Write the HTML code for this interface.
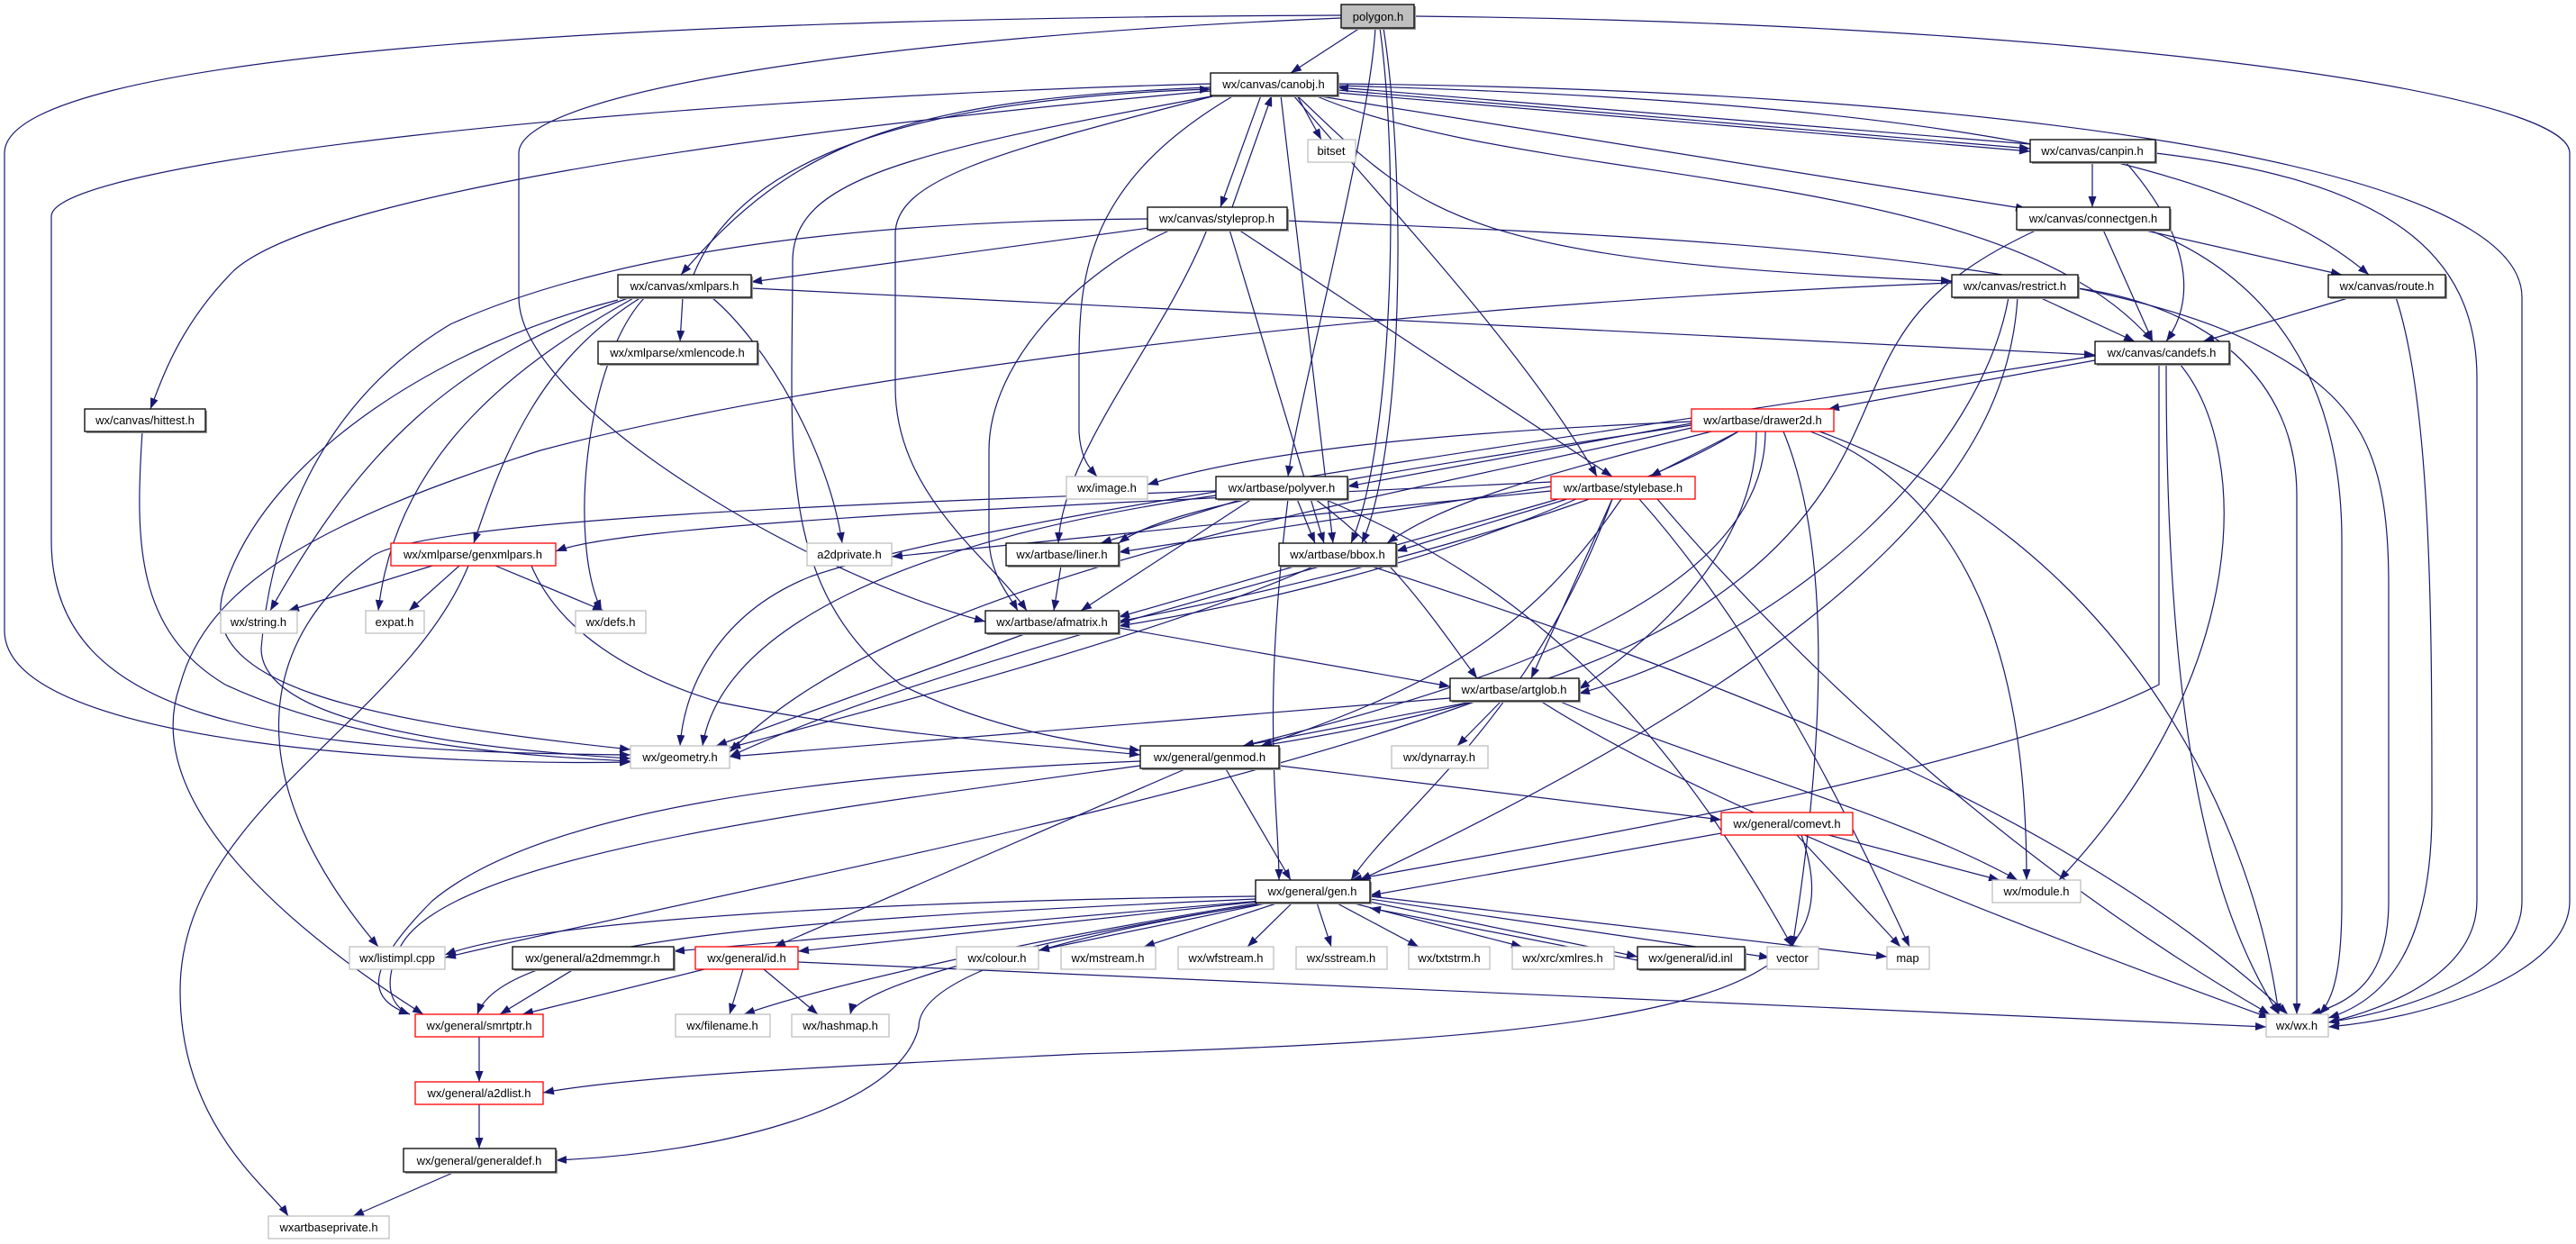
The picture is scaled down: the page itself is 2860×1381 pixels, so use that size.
<!DOCTYPE html>
<html><head><meta charset="utf-8"><style>
html,body{margin:0;padding:0;background:#fff;}
svg{display:block;}
text{font-family:"Liberation Sans",sans-serif;font-size:13px;fill:#000;}
</style></head><body>
<svg width="2860" height="1381" viewBox="0 0 2860 1381" xmlns="http://www.w3.org/2000/svg">
<defs>
<marker id="a" markerUnits="userSpaceOnUse" markerWidth="12" markerHeight="9" refX="12" refY="4.5" orient="auto">
<path d="M0,0 L12,4.5 L0,9 z" fill="#191970"/>
</marker>
</defs>
<g fill="none" stroke="#191970" stroke-width="1.2" marker-end="url(#a)">
<path d="M1510 31 L1433 81"/>
<path d="M1527 31 C1520 150,1440 450,1430 529"/>
<path d="M1532 31 C1555 200,1545 500,1500 603"/>
<path d="M1536 31 C1562 200,1558 500,1512 603"/>
<path d="M1489 20 C1000 40,576 100,576 170 L576 330 C576 450,900 640,1094 690"/>
<path d="M1489 17 C700 20,5 60,5 170 L5 700 C5 830,500 850,700 846"/>
<path d="M1570 18 C2300 25,2853 100,2853 170 L2853 1000 C2853 1080,2700 1130,2585 1140"/>
<path d="M1440 106 L1467 155"/>
<path d="M1485 100 L2254 165"/>
<path d="M2254 160 L1485 97"/>
<path d="M1485 103 L2254 168"/>
<path d="M1460 106 L2250 232"/>
<path d="M1440 106 C1580 240,1620 290,2167 312"/>
<path d="M1485 95 C2000 110,2450 150,2630 305"/>
<path d="M1460 106 C1700 210,2220 180,2390 379"/>
<path d="M1485 93 C2200 100,2800 180,2800 330 L2800 1000 C2800 1080,2680 1120,2585 1135"/>
<path d="M1400 106 L1355 230"/>
<path d="M1368 230 L1412 106"/>
<path d="M1344 97 C1000 110,880 160,756 305"/>
<path d="M770 305 C820 180,1000 110,1344 99"/>
<path d="M1344 101 C800 150,350 220,260 300 C200 360,180 420,167 454"/>
<path d="M1344 93 C700 110,57 180,57 240 L57 600 C57 800,300 835,700 838"/>
<path d="M1350 106 C1000 170,880 200,880 290 C880 500,860 650,1000 760 C1100 810,1200 825,1266 833"/>
<path d="M1350 106 C1100 170,994 200,994 260 L994 430 C994 550,1100 620,1140 678"/>
<path d="M1370 106 C1210 200,1198 300,1198 400 L1198 480 C1200 510,1210 520,1218 529"/>
<path d="M1422 106 L1480 603"/>
<path d="M1436 106 C1560 250,1700 400,1773 529"/>
<path d="M1276 253 L834 313"/>
<path d="M1274 243 C1000 245,700 270,500 360 C350 450,300 600,290 720 C290 800,500 830,700 842"/>
<path d="M1340 255 C1290 380,1180 500,1175 603"/>
<path d="M1300 255 C1200 300,1098 400,1098 500 L1098 600 C1100 640,1120 660,1130 678"/>
<path d="M1365 255 L1470 603"/>
<path d="M1375 255 L1790 529"/>
<path d="M1429 245 C1800 260,2300 280,2500 380 C2620 440,2652 500,2652 650 L2652 1000 C2652 1080,2620 1110,2565 1126"/>
<path d="M758 330 L755 379"/>
<path d="M834 320 L2326 394"/>
<path d="M700 330 C500 400,400 500,300 678"/>
<path d="M705 330 C580 400,440 500,420 678"/>
<path d="M716 330 C650 400,630 600,668 678"/>
<path d="M790 330 C850 380,920 500,935 603"/>
<path d="M712 330 C600 400,560 500,526 603"/>
<path d="M686 333 C500 380,300 500,250 650 C210 760,400 800,700 832"/>
<path d="M2264 330 L2370 379"/>
<path d="M2307 320 C2450 340,2550 420,2550 550 L2550 1126"/>
<path d="M2167 314 C1500 340,900 420,600 500 C350 580,230 650,200 760 C150 900,350 1050,470 1126"/>
<path d="M2230 330 C2200 500,2000 700,1753 770"/>
<path d="M2240 330 C2230 500,2100 700,1510 977"/>
<path d="M2610 330 L2446 379"/>
<path d="M2660 330 C2700 450,2700 700,2700 900 C2700 1050,2650 1110,2585 1130"/>
<path d="M2323 180 L2323 230"/>
<path d="M2360 180 C2430 260,2440 330,2405 379"/>
<path d="M2393 170 C2650 200,2750 280,2750 420 L2750 1000 C2750 1080,2650 1120,2585 1135"/>
<path d="M2378 255 L2600 305"/>
<path d="M2335 255 L2390 379"/>
<path d="M2385 255 C2500 300,2600 400,2600 600 L2600 1000 C2600 1080,2590 1110,2575 1126"/>
<path d="M2262 255 C2100 330,2100 400,2050 500 C1950 700,1700 780,1400 828"/>
<path d="M2326 400 L2030 454"/>
<path d="M2326 395 C1800 480,1100 570,900 640 C800 680,760 760,755 828"/>
<path d="M2420 404 C2500 500,2500 750,2286 977"/>
<path d="M2405 404 C2405 800,2450 1000,2530 1126"/>
<path d="M2397 404 L2397 760 C2200 860,1700 940,1500 977"/>
<path d="M1878 468 C1600 480,1400 500,1274 538"/>
<path d="M1878 470 L1496 540"/>
<path d="M1930 479 L1832 529"/>
<path d="M1878 472 C1500 530,1300 560,1242 603"/>
<path d="M1900 479 C1700 530,1600 560,1540 603"/>
<path d="M1930 479 C1800 560,1500 640,1242 690"/>
<path d="M1950 479 C1950 600,1850 700,1753 765"/>
<path d="M1878 475 C1500 560,1000 640,810 835"/>
<path d="M1960 479 C1960 650,1700 750,1380 828"/>
<path d="M1980 479 C2030 600,2030 800,1990 1051"/>
<path d="M2010 479 C2220 560,2250 800,2250 977"/>
<path d="M2020 479 C2350 600,2500 900,2530 1126"/>
<path d="M1380 554 L1222 603"/>
<path d="M1440 554 L1460 603"/>
<path d="M1390 554 L1200 678"/>
<path d="M1460 554 C1550 620,1600 700,1640 753"/>
<path d="M1430 554 C1400 800,1420 900,1420 977"/>
<path d="M1350 545 C900 560,450 580,410 620 C300 700,250 850,420 1051"/>
<path d="M1350 550 C1000 600,800 700,780 828"/>
<path d="M1470 554 C1700 650,1850 800,1990 1051"/>
<path d="M1722 545 L990 618"/>
<path d="M1722 540 L1242 613"/>
<path d="M1740 554 L1550 612"/>
<path d="M1750 554 C1600 620,1400 670,1242 695"/>
<path d="M1790 554 L1700 753"/>
<path d="M1730 554 C1400 650,1000 750,810 840"/>
<path d="M1790 554 C1700 800,1550 900,1500 977"/>
<path d="M1820 554 C1950 700,2050 900,2120 1051"/>
<path d="M1840 554 C2050 800,2300 1000,2520 1126"/>
<path d="M1722 535 C1200 560,700 580,617 612"/>
<path d="M1800 554 C1700 700,1600 760,1400 828"/>
<path d="M480 628 L320 678"/>
<path d="M510 628 L454 678"/>
<path d="M550 628 L670 678"/>
<path d="M590 628 C620 700,700 750,800 780 C1000 820,1200 830,1266 838"/>
<path d="M520 628 C450 800,200 900,200 1100 C200 1250,300 1320,320 1350"/>
<path d="M1178 628 L1170 678"/>
<path d="M1440 628 L1242 685"/>
<path d="M1460 628 C1300 700,1000 780,810 830"/>
<path d="M1520 628 C1900 750,2300 900,2540 1126"/>
<path d="M1140 703 L795 828"/>
<path d="M1242 697 L1610 762"/>
<path d="M158 479 C150 600,150 700,250 760 C400 830,600 840,700 845"/>
<path d="M1610 775 L810 840"/>
<path d="M1640 778 L1380 828"/>
<path d="M1667 778 L1618 828"/>
<path d="M1730 778 C1900 850,2100 900,2240 977"/>
<path d="M1710 778 C1900 900,2300 1050,2520 1130"/>
<path d="M1640 778 C1300 900,800 990,494 1063"/>
<path d="M1266 845 C900 860,600 900,480 1000 C400 1080,410 1110,455 1126"/>
<path d="M1266 850 C900 900,500 950,445 1050 C420 1100,440 1120,455 1126"/>
<path d="M1320 852 L860 1051"/>
<path d="M1360 852 L1433 977"/>
<path d="M1420 850 L1911 910"/>
<path d="M1911 925 L1521 994"/>
<path d="M2030 927 L2220 977"/>
<path d="M1995 927 L2110 1051"/>
<path d="M2000 927 C2060 1100,1900 1150,1200 1170 C900 1185,700 1195,603 1213"/>
<path d="M1394 995 C1000 1000,600 1020,494 1060"/>
<path d="M1400 1000 L748 1056"/>
<path d="M1405 1000 L886 1056"/>
<path d="M1410 1002 L1153 1055"/>
<path d="M1420 1002 L1270 1051"/>
<path d="M1435 1002 L1385 1051"/>
<path d="M1462 1002 L1478 1051"/>
<path d="M1483 1002 L1575 1051"/>
<path d="M1500 1002 L1690 1051"/>
<path d="M1515 1000 L1818 1062"/>
<path d="M1818 1066 L1521 1008"/>
<path d="M1521 998 L1965 1063"/>
<path d="M1521 995 L2095 1062"/>
<path d="M1394 998 C900 1020,560 1040,530 1126"/>
<path d="M1400 1002 C1100 1050,900 1100,826 1126"/>
<path d="M1410 1002 C1100 1050,950 1100,944 1126"/>
<path d="M1410 1002 C1100 1050,1020 1100,1020 1140 C1000 1230,800 1280,617 1288"/>
<path d="M637 1076 L555 1126"/>
<path d="M782 1076 L580 1126"/>
<path d="M825 1076 L810 1126"/>
<path d="M848 1076 L908 1126"/>
<path d="M886 1068 L2516 1140"/>
<path d="M532 1151 L532 1201"/>
<path d="M532 1226 L532 1275"/>
<path d="M505 1301 L392 1350"/>
</g>
<g fill="#9a9a9a" stroke="none">
<rect x="1346" y="83" width="141" height="25"/>
<rect x="1276" y="232" width="155" height="25"/>
<rect x="688" y="307" width="148" height="25"/>
<rect x="666" y="381" width="177" height="25"/>
<rect x="96" y="456" width="134" height="25"/>
<rect x="2256" y="157" width="139" height="25"/>
<rect x="2241" y="232" width="170" height="25"/>
<rect x="2169" y="307" width="140" height="25"/>
<rect x="2587" y="307" width="130" height="25"/>
<rect x="2328" y="381" width="149" height="25"/>
<rect x="1352" y="531" width="146" height="25"/>
<rect x="1119" y="605" width="125" height="25"/>
<rect x="1422" y="605" width="130" height="25"/>
<rect x="1096" y="680" width="148" height="25"/>
<rect x="1612" y="755" width="143" height="25"/>
<rect x="1268" y="830" width="154" height="25"/>
<rect x="1396" y="979" width="127" height="25"/>
<rect x="571" y="1053" width="179" height="25"/>
<rect x="1820" y="1053" width="119" height="25"/>
<rect x="450" y="1277" width="169" height="26"/>
<rect x="1491" y="7" width="81" height="26"/>
</g>
<g fill="#fff" stroke="#000" stroke-width="1.3">
<rect x="1344" y="81" width="141" height="25"/>
<rect x="1274" y="230" width="155" height="25"/>
<rect x="686" y="305" width="148" height="25"/>
<rect x="664" y="379" width="177" height="25"/>
<rect x="94" y="454" width="134" height="25"/>
<rect x="2254" y="155" width="139" height="25"/>
<rect x="2239" y="230" width="170" height="25"/>
<rect x="2167" y="305" width="140" height="25"/>
<rect x="2585" y="305" width="130" height="25"/>
<rect x="2326" y="379" width="149" height="25"/>
<rect x="1350" y="529" width="146" height="25"/>
<rect x="1117" y="603" width="125" height="25"/>
<rect x="1420" y="603" width="130" height="25"/>
<rect x="1094" y="678" width="148" height="25"/>
<rect x="1610" y="753" width="143" height="25"/>
<rect x="1266" y="828" width="154" height="25"/>
<rect x="1394" y="977" width="127" height="25"/>
<rect x="569" y="1051" width="179" height="25"/>
<rect x="1818" y="1051" width="119" height="25"/>
<rect x="448" y="1275" width="169" height="26"/>
<rect x="1489" y="5" width="81" height="26" fill="#bfbfbf"/>
</g>
<g fill="#fff" stroke="#ff0000" stroke-width="1.3">
<rect x="1878" y="454" width="158" height="25"/>
<rect x="1722" y="529" width="160" height="25"/>
<rect x="434" y="603" width="183" height="25"/>
<rect x="1911" y="902" width="146" height="25"/>
<rect x="772" y="1051" width="114" height="25"/>
<rect x="461" y="1126" width="142" height="25"/>
<rect x="461" y="1201" width="142" height="25"/>
</g>
<g fill="#fff" stroke="#bfbfbf" stroke-width="1.3">
<rect x="1452" y="155" width="53" height="25"/>
<rect x="1184" y="529" width="90" height="25"/>
<rect x="896" y="603" width="94" height="25"/>
<rect x="245" y="678" width="85" height="25"/>
<rect x="406" y="678" width="65" height="25"/>
<rect x="639" y="678" width="78" height="25"/>
<rect x="700" y="828" width="110" height="25"/>
<rect x="1545" y="828" width="107" height="25"/>
<rect x="2212" y="977" width="98" height="25"/>
<rect x="388" y="1051" width="106" height="25"/>
<rect x="1062" y="1051" width="91" height="25"/>
<rect x="1178" y="1051" width="105" height="25"/>
<rect x="1308" y="1051" width="106" height="25"/>
<rect x="1439" y="1051" width="101" height="25"/>
<rect x="1564" y="1051" width="90" height="25"/>
<rect x="1679" y="1051" width="113" height="25"/>
<rect x="1962" y="1051" width="57" height="25"/>
<rect x="2095" y="1051" width="47" height="25"/>
<rect x="750" y="1126" width="105" height="25"/>
<rect x="879" y="1126" width="108" height="25"/>
<rect x="2516" y="1126" width="69" height="25"/>
<rect x="298" y="1350" width="134" height="25"/>
</g>
<g text-anchor="middle">
<text x="1530" y="23">polygon.h</text>
<text x="1414" y="98">wx/canvas/canobj.h</text>
<text x="1478" y="172">bitset</text>
<text x="2323" y="172">wx/canvas/canpin.h</text>
<text x="1351" y="247">wx/canvas/styleprop.h</text>
<text x="2324" y="247">wx/canvas/connectgen.h</text>
<text x="760" y="322">wx/canvas/xmlpars.h</text>
<text x="2237" y="322">wx/canvas/restrict.h</text>
<text x="2650" y="322">wx/canvas/route.h</text>
<text x="752" y="396">wx/xmlparse/xmlencode.h</text>
<text x="2400" y="396">wx/canvas/candefs.h</text>
<text x="161" y="471">wx/canvas/hittest.h</text>
<text x="1957" y="471">wx/artbase/drawer2d.h</text>
<text x="1229" y="546">wx/image.h</text>
<text x="1423" y="546">wx/artbase/polyver.h</text>
<text x="1802" y="546">wx/artbase/stylebase.h</text>
<text x="525" y="620">wx/xmlparse/genxmlpars.h</text>
<text x="943" y="620">a2dprivate.h</text>
<text x="1179" y="620">wx/artbase/liner.h</text>
<text x="1485" y="620">wx/artbase/bbox.h</text>
<text x="287" y="695">wx/string.h</text>
<text x="438" y="695">expat.h</text>
<text x="678" y="695">wx/defs.h</text>
<text x="1168" y="695">wx/artbase/afmatrix.h</text>
<text x="1681" y="770">wx/artbase/artglob.h</text>
<text x="755" y="845">wx/geometry.h</text>
<text x="1343" y="845">wx/general/genmod.h</text>
<text x="1598" y="845">wx/dynarray.h</text>
<text x="1984" y="919">wx/general/comevt.h</text>
<text x="1457" y="994">wx/general/gen.h</text>
<text x="2261" y="994">wx/module.h</text>
<text x="441" y="1068">wx/listimpl.cpp</text>
<text x="658" y="1068">wx/general/a2dmemmgr.h</text>
<text x="829" y="1068">wx/general/id.h</text>
<text x="1107" y="1068">wx/colour.h</text>
<text x="1230" y="1068">wx/mstream.h</text>
<text x="1361" y="1068">wx/wfstream.h</text>
<text x="1489" y="1068">wx/sstream.h</text>
<text x="1609" y="1068">wx/txtstrm.h</text>
<text x="1735" y="1068">wx/xrc/xmlres.h</text>
<text x="1877" y="1068">wx/general/id.inl</text>
<text x="1990" y="1068">vector</text>
<text x="2118" y="1068">map</text>
<text x="532" y="1143">wx/general/smrtptr.h</text>
<text x="802" y="1143">wx/filename.h</text>
<text x="933" y="1143">wx/hashmap.h</text>
<text x="2550" y="1143">wx/wx.h</text>
<text x="532" y="1218">wx/general/a2dlist.h</text>
<text x="532" y="1293">wx/general/generaldef.h</text>
<text x="365" y="1367">wxartbaseprivate.h</text>
</g>
</svg>
</body></html>
